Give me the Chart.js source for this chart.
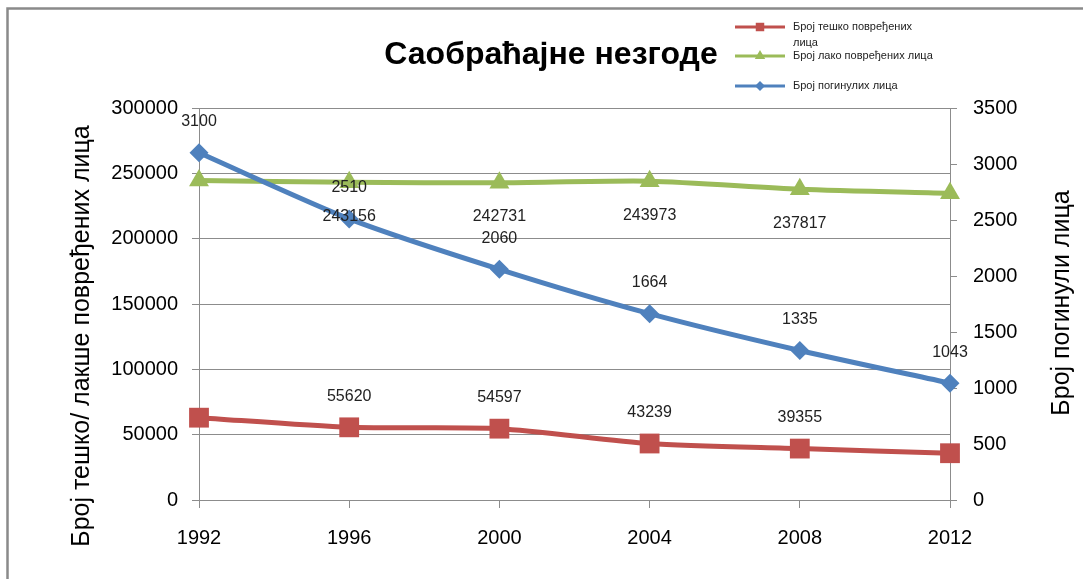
<!DOCTYPE html>
<html>
<head>
<meta charset="utf-8">
<script src="https://cdn.jsdelivr.net/npm/chart.js@4"></script>
<style>
  body { margin: 0; background: #fff; }
  canvas { display: block; }
</style>
</head>
<body>
<canvas id="chart" width="1083" height="579"></canvas>
<script>
// values
const years = ['1992', '1996', '2000', '2004', '2008', '2012'];
const severelyInjured = [63000, 55620, 54597, 43239, 39355, 35800];
const lightlyInjured = [244500, 243156, 242731, 243973, 237817, 234700];
const killed = [3100, 2510, 2060, 1664, 1335, 1043];
// which points carry a value label
const severeLabels = [false, true, true, true, true, false];
const lightLabels = [false, true, true, true, true, false];
const killedLabels = [true, true, true, true, true, true];

const titleText = 'Саобраћајне незгоде';
const leftTitle = 'Број тешко/ лакше повређених лица';
const rightTitle = 'Број погинули лица';

const gridColor = '#8c8c8c';
const fontFam = "'Liberation Sans', Arial, sans-serif";

// frame, title, axis titles
const decorPlugin = {
    id: 'decor',
    beforeDraw(chart){
        const ctx = chart.ctx
        ctx.save()
        ctx.fillStyle = '#fff'
        ctx.fillRect(0, 0, chart.width, chart.height)
        ctx.strokeStyle = '#8a8a8a'
        ctx.lineWidth = 2.5
        ctx.beginPath()
        ctx.moveTo(chart.width + 5, 8.5)
        ctx.lineTo(7.5, 8.5)
        ctx.lineTo(7.5, chart.height + 5)
        ctx.stroke()
        ctx.restore()
    },
    afterDraw(chart){
        const ctx = chart.ctx
        ctx.save()
        ctx.fillStyle = '#000'
        ctx.textAlign = 'center'
        ctx.textBaseline = 'middle'
        ctx.font = `bold 32px ${fontFam}`
        ctx.fillText(titleText, 551, 55)

        ctx.font = `25px ${fontFam}`
        ctx.save()
        ctx.translate(82, 336)
        ctx.rotate(-Math.PI / 2)
        ctx.fillText(leftTitle, 0, 0)
        ctx.restore()

        ctx.translate(1062, 303)
        ctx.rotate(-Math.PI / 2)
        ctx.fillText(rightTitle, 0, 0)
        ctx.restore()
    }
};

// value labels next to the points
const valueLabels = {
    id: 'valueLabels',
    afterDatasetsDraw(chart){
        const ctx = chart.ctx
        ctx.save()
        ctx.font = `16px ${fontFam}`
        ctx.fillStyle = '#222'
        ctx.textAlign = 'center'
        ctx.textBaseline = 'middle'
        chart.data.datasets.forEach((ds, i) => {
            const meta = chart.getDatasetMeta(i)
            meta.data.forEach((pt, j) => {
                if(!ds.showLabel[j]) return
                ctx.fillText(String(ds.data[j]), pt.x, pt.y + ds.labelDy)
            })
        })
        ctx.restore()
    }
};

// legend in the top right corner
const sideLegend = {
    id: 'sideLegend',
    afterDraw(chart){
        const ctx = chart.ctx
        const rows = [27, 56, 86]
        ctx.save()
        ctx.font = `11px ${fontFam}`
        ctx.fillStyle = '#222'
        ctx.textBaseline = 'middle'
        chart.data.datasets.forEach((ds, i) => {
            const y = rows[i]
            ctx.strokeStyle = ds.borderColor
            ctx.lineWidth = 3
            ctx.beginPath()
            ctx.moveTo(735, y)
            ctx.lineTo(785, y)
            ctx.stroke()
            ctx.fillStyle = ds.borderColor
            Chart.helpers.drawPoint(ctx, {pointStyle: ds.pointStyle, radius: ds.legendRadius, borderWidth: 0}, 760, y)
            ctx.fillStyle = '#222'
            ds.legendLines.forEach((line, k) => ctx.fillText(line, 793, y + k * 16))
        })
        ctx.restore()
    }
};

const plain = v => String(v)

new Chart('chart', {
    type: 'line',
    data: {
        labels: years,
        datasets: [
            {
                label: 'Број тешко повређених лица',
                legendLines: ['Број тешко повређених', 'лица'],
                data: severelyInjured,
                showLabel: severeLabels,
                labelDy: -31,
                yAxisID: 'y',
                borderColor: '#c0504d',
                backgroundColor: '#c0504d',
                pointStyle: 'rect',
                pointRadius: 14,
                legendRadius: 6,
                order: 1
            },
            {
                label: 'Број лако повређених лица',
                legendLines: ['Број лако повређених лица'],
                data: lightlyInjured,
                showLabel: lightLabels,
                labelDy: 34,
                yAxisID: 'y',
                borderColor: '#9bbb59',
                backgroundColor: '#9bbb59',
                pointStyle: 'triangle',
                pointRadius: 11.5,
                legendRadius: 6,
                order: 2
            },
            {
                label: 'Број погинулих лица',
                legendLines: ['Број погинулих лица'],
                data: killed,
                showLabel: killedLabels,
                labelDy: -31,
                yAxisID: 'y1',
                borderColor: '#4f81bd',
                backgroundColor: '#4f81bd',
                pointStyle: 'rectRot',
                pointRadius: 9.5,
                legendRadius: 5,
                order: 0
            }
        ]
    },
    options: {
        responsive: false,
        animation: false,
        devicePixelRatio: 1,
        layout: { padding: { top: 108, left: 0, right: 0, bottom: 0 } },
        elements: {
            line: { borderWidth: 5, tension: 0.25 },
            point: { borderWidth: 0, hoverRadius: 10 }
        },
        plugins: {
            legend: { display: false },
            title: { display: false },
            tooltip: { enabled: false }
        },
        scales: {
            x: {
                offset: false,
                grid: { display: true, drawOnChartArea: false, color: gridColor, tickLength: 8 },
                border: { color: gridColor },
                ticks: { color: '#000', font: { size: 20, family: fontFam }, padding: 18, maxRotation: 0 },
                afterFit: s => { s.height = 79 }
            },
            y: {
                position: 'left',
                min: 0,
                max: 300000,
                ticks: { stepSize: 50000, color: '#000', font: { size: 20, family: fontFam }, padding: 14, callback: plain },
                grid: { color: gridColor, tickLength: 7 },
                border: { color: gridColor },
                afterFit: s => { s.width = 199 }
            },
            y1: {
                position: 'right',
                min: 0,
                max: 3500,
                ticks: { stepSize: 500, color: '#000', font: { size: 20, family: fontFam }, padding: 16, callback: plain },
                grid: { drawOnChartArea: false, color: gridColor, tickLength: 7 },
                border: { color: gridColor },
                afterFit: s => { s.width = 133 }
            }
        }
    },
    plugins: [decorPlugin, valueLabels, sideLegend]
});
</script>
</body>
</html>
